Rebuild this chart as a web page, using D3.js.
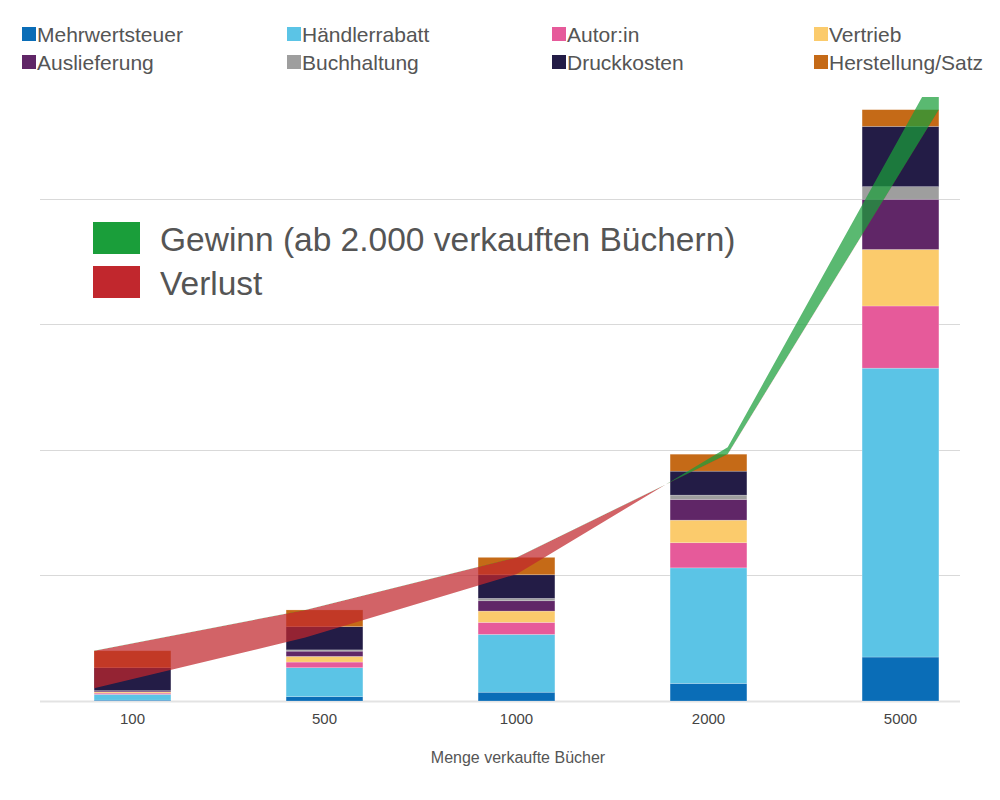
<!DOCTYPE html>
<html><head><meta charset="utf-8">
<script src="https://cdn.jsdelivr.net/npm/d3@7"></script>
<style>body{margin:0;background:#fff}svg{display:block}</style>
</head><body>
<svg id="c" width="1000" height="800"></svg>
<script>
const categories = ["100", "500", "1000", "2000", "5000"];
const seriesNames = ["Mehrwertsteuer", "Händlerrabatt", "Autor:in", "Vertrieb", "Auslieferung", "Buchhaltung", "Druckkosten", "Herstellung/Satz"];
const seriesColors = ["#0a6db7", "#5bc4e6", "#e65a9a", "#fbcb6c", "#602667", "#9e9e9e", "#231c46", "#c56a17"];
const mehrwertsteuer = [70, 350, 700, 1400, 3500];
const haendlerrabatt = [460, 2300, 4600, 9200, 23000];
const autorin = [100, 450, 960, 2000, 4950];
const vertrieb = [90, 450, 900, 1800, 4500];
const auslieferung = [80, 420, 820, 1650, 4000];
const buchhaltung = [20, 100, 190, 340, 1000];
const druckkosten = [1830, 1850, 1880, 1910, 4800];
const herstellung = [1350, 1330, 1385, 1350, 1330];
const umsatz = [1010, 5050, 10100, 20200, 50500];
const yTicks = [0, 10000, 20000, 30000, 40000];
const xTitle = "Menge verkaufte Bücher";
const bigLegend = ["Gewinn (ab 2.000 verkauften Büchern)", "Verlust"];
const bigLegendColors = ["#1a9e3a", "#c1272d"];

const series = [mehrwertsteuer, haendlerrabatt, autorin, vertrieb, auslieferung, buchhaltung, druckkosten, herstellung];
const rows = categories.map((c, i) => {
  const r = {cat: c};
  seriesNames.forEach((n, k) => r[n] = series[k][i]);
  return r;
});
const stacked = d3.stack().keys(seriesNames)(rows);
const kosten = rows.map(r => d3.sum(seriesNames, n => r[n]));

const svg = d3.select("#c");
const font = "'Liberation Sans', Arial, Helvetica, sans-serif";

const x = d3.scaleBand().domain(categories).range([36.5, 996.5]).paddingInner(0.6).paddingOuter(0.3);
const y = d3.scaleLinear().domain([0, 50000]).range([701, 73]);
const xl = d3.scalePoint().domain(categories).range([x(categories[0]), x(categories[4]) + x.bandwidth()]);

// gridlines
svg.append("g").selectAll("line").data(yTicks).join("line")
  .attr("x1", 40).attr("x2", 960)
  .attr("y1", d => Math.round(y(d)) + 0.5).attr("y2", d => Math.round(y(d)) + 0.5)
  .attr("stroke", d => d === 0 ? "#e3e3e3" : "#d9d9d9")
  .attr("stroke-width", d => d === 0 ? 2 : 1);

// bars
svg.append("g").selectAll("g").data(stacked).join("g")
  .attr("fill", (d, i) => seriesColors[i])
  .selectAll("rect").data(d => d).join("rect")
  .attr("x", d => x(d.data.cat))
  .attr("width", x.bandwidth())
  .attr("y", d => y(d[1]))
  .attr("height", d => y(d[0]) - y(d[1]))
  .attr("stroke", "rgba(255,255,255,0.35)").attr("stroke-width", 0.6);

// profit / loss band
const defs = svg.append("defs");
const pts = categories.map((c, i) => ({c, k: kosten[i], u: umsatz[i]}));
defs.append("clipPath").attr("id", "above").append("path")
  .attr("d", d3.area().x(d => xl(d.c)).y0(0).y1(d => y(d.k))(pts));
defs.append("clipPath").attr("id", "below").append("path")
  .attr("d", d3.area().x(d => xl(d.c)).y0(800).y1(d => y(d.k))(pts));
defs.append("clipPath").attr("id", "plot").append("rect")
  .attr("x", 0).attr("y", 97).attr("width", 1000).attr("height", 700);
const band = d3.area().x(d => xl(d.c)).y0(d => y(d.k)).y1(d => y(d.u));
const ov = svg.append("g").attr("clip-path", "url(#plot)");
ov.append("g").attr("clip-path", "url(#below)").append("path")
  .attr("d", band(pts)).attr("fill", bigLegendColors[1]).attr("fill-opacity", 0.72);
ov.append("g").attr("clip-path", "url(#above)").append("path")
  .attr("d", band(pts)).attr("fill", bigLegendColors[0]).attr("fill-opacity", 0.72);

// x axis labels
svg.append("g").selectAll("text").data(categories).join("text")
  .attr("x", d => x(d) + x.bandwidth() / 2).attr("y", 724)
  .attr("text-anchor", "middle").attr("font-family", font).attr("font-size", 15)
  .attr("fill", "#444").text(d => d);
svg.append("text").attr("x", 518).attr("y", 763).attr("text-anchor", "middle")
  .attr("font-family", font).attr("font-size", 16).attr("fill", "#555").text(xTitle);

// top legend
const legCols = [22, 287, 552, 814];
const leg = svg.append("g").selectAll("g").data(seriesNames).join("g")
  .attr("transform", (d, i) => `translate(${legCols[i % 4]},${i < 4 ? 27 : 55})`);
leg.append("rect").attr("width", 14).attr("height", 14).attr("fill", (d, i) => seriesColors[i]);
leg.append("text").attr("x", 15).attr("y", 15).attr("font-family", font).attr("font-size", 21)
  .attr("fill", "#555").text(d => d);

// big legend
const bl = svg.append("g").selectAll("g").data(bigLegend).join("g")
  .attr("transform", (d, i) => `translate(93,${222 + i * 44})`);
bl.append("rect").attr("width", 47).attr("height", 32).attr("fill", (d, i) => bigLegendColors[i]);
bl.append("text").attr("x", 67).attr("y", 29).attr("font-family", font).attr("font-size", 33.5)
  .attr("fill", "#555").text(d => d);
</script>
</body></html>
